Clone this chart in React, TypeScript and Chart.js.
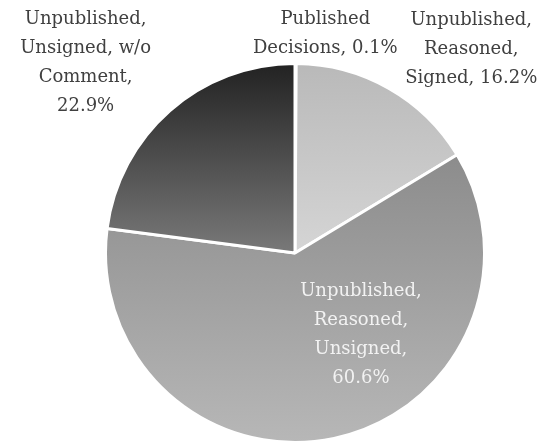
import React, { useEffect, useRef } from "react";
import { Chart, registerables } from "chart.js";

Chart.register(...registerables);

const categories = [
  "Published Decisions",
  "Unpublished, Reasoned, Signed",
  "Unpublished, Reasoned, Unsigned",
  "Unpublished, Unsigned, w/o Comment",
];
const values = [0.1, 16.2, 60.6, 22.9];
const labelLines = [
  ["Published", "Decisions, 0.1%"],
  ["Unpublished,", "Reasoned,", "Signed, 16.2%"],
  ["Unpublished,", "Reasoned,", "Unsigned,", "60.6%"],
  ["Unpublished,", "Unsigned, w/o", "Comment,", "22.9%"],
];
const gradTop = ["#111111", "#b9b9b9", "#8c8c8c", "#222222"];
const gradBottom = ["#333333", "#d5d5d5", "#b7b7b7", "#797979"];
const labelColors = ["#404040", "#404040", "#f2f2f2", "#404040"];
// label centre offsets in units of radius
const labelOffsets = [
  [0.16, -1.155],
  [0.93, -1.075],
  [0.348, 0.433],
  [-1.105, -1.005],
];

const FONT = '18px "DejaVu Serif", "Liberation Serif", serif';
const LINE_H = 29;

function sliceYRange(arc: any) {
  const { y, startAngle, endAngle, outerRadius } = arc;
  const ys = [y, y + Math.sin(startAngle) * outerRadius, y + Math.sin(endAngle) * outerRadius];
  const check = [Math.PI / 2, -Math.PI / 2, (3 * Math.PI) / 2, (5 * Math.PI) / 2, -(3 * Math.PI) / 2];
  for (const a of check) {
    if (a > startAngle && a < endAngle) ys.push(y + Math.sin(a) * outerRadius);
  }
  return [Math.min(...ys), Math.max(...ys)];
}

const labelPlugin = {
  id: "sliceLabels",
  afterDatasetsDraw(chart: any) {
    const meta = chart.getDatasetMeta(0);
    const ctx = chart.ctx;
    ctx.save();
    ctx.font = FONT;
    ctx.textAlign = "center";
    ctx.textBaseline = "middle";
    meta.data.forEach((arc: any, i: number) => {
      const r = arc.outerRadius;
      const cx = arc.x + labelOffsets[i][0] * r;
      const cy = arc.y + labelOffsets[i][1] * r;
      const lines = labelLines[i];
      const y0 = cy - ((lines.length - 1) * LINE_H) / 2;
      ctx.fillStyle = labelColors[i];
      lines.forEach((t, k) => ctx.fillText(t, cx, y0 + k * LINE_H));
    });
    ctx.restore();
  },
};

export default function App() {
  const ref = useRef<HTMLCanvasElement | null>(null);
  useEffect(() => {
    if (!ref.current) return;
    const chart = new Chart(ref.current, {
      type: "pie",
      data: {
        labels: categories,
        datasets: [
          {
            data: values,
            borderColor: "#ffffff",
            borderWidth: 3,
            radius: 189.5,
            backgroundColor: (c: any) => {
              const chartObj = c.chart;
              const i = c.dataIndex;
              const arc = chartObj.getDatasetMeta(0)?.data?.[i];
              if (!chartObj.chartArea || !arc || !arc.outerRadius) return gradBottom[i];
              const [y1, y2] = sliceYRange(arc);
              const g = chartObj.ctx.createLinearGradient(0, y1, 0, y2);
              g.addColorStop(0, gradTop[i]);
              g.addColorStop(1, gradBottom[i]);
              return g;
            },
          } as any,
        ],
      },
      options: {
        responsive: false,
        animation: false,
        layout: { padding: { top: 65, bottom: 1, left: 107, right: 56 } },
        plugins: {
          legend: { display: false },
          tooltip: { enabled: false },
        },
      },
      plugins: [labelPlugin],
    });
    chart.update("none");
    if ((document as any).fonts && (document as any).fonts.load) {
      (document as any).fonts.load(FONT).then(() => {
        try { chart.update("none"); } catch (e) {}
      });
    }
    return () => chart.destroy();
  }, []);
  return (
    <div style={{ position: "fixed", left: 0, top: 0, width: 539, height: 442, background: "#ffffff" }}>
      <canvas ref={ref} width={539} height={442} style={{ width: 539, height: 442 }} />
    </div>
  );
}
